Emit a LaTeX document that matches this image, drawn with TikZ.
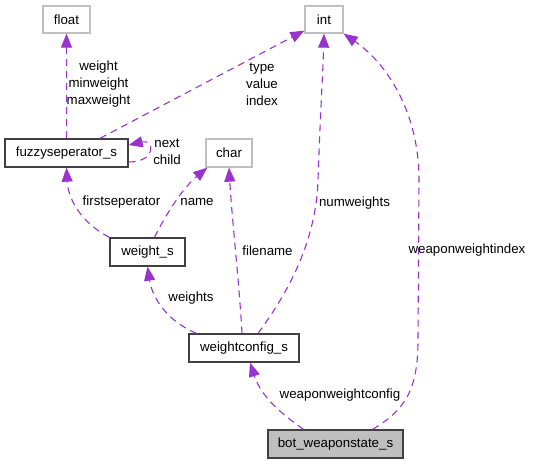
\documentclass[tikz,border=0pt]{standalone}
\usepackage{fontspec}
\setmainfont{Liberation Sans}
\usetikzlibrary{arrows.meta}
\definecolor{edgec}{HTML}{9A32CD}
\definecolor{grayb}{HTML}{BFBFBF}
\definecolor{darkb}{HTML}{404040}
\tikzset{
  base/.style={font=\fontsize{13.3}{17}\selectfont, inner sep=0pt, minimum height=28pt, anchor=center},
  cls/.style={base, draw=darkb, line width=1.3pt, fill=white},
  ext/.style={base, draw=grayb, line width=1.3pt, fill=white},
  cur/.style={base, draw=darkb, line width=1.3pt, fill=grayb},
  rel/.style={draw=edgec, line width=1.1pt, dash pattern=on 7pt off 5pt, -{Triangle[length=14pt,width=11pt]}, fill=none},
  lbl/.style={font=\fontsize{13.3}{17}\selectfont, inner sep=0pt, align=center, text=black},
}
\begin{document}
\begin{tikzpicture}[x=1pt,y=-1pt]
\useasboundingbox[fill=white] (0,0) rectangle (543,464);
\node[ext, minimum width=47pt, minimum height=27pt] (float) at (66.5,19.5) {float};
\node[ext, minimum width=38pt, minimum height=27pt] (int) at (324,19.5) {int};
\node[cls, minimum width=123pt] (fz) at (66.5,153) {fuzzyseperator\_s};
\node[ext, minimum width=46pt] (ch) at (229,153) {char};
\node[cls, minimum width=75pt] (ws) at (147.5,252) {weight\_s};
\node[cls, minimum width=110pt] (wc) at (244,348) {weightconfig\_s};
\node[cur, minimum width=135pt] (bot) at (335.5,444) {bot\_weaponstate\_s};

% fuzzyseperator_s -> float
\draw[rel] (fz.north) -- (float.south);
\node[lbl] (l1) at (98.5,84) {weight\\minweight\\maxweight};
% fuzzyseperator_s -> int
\draw[rel] ([xshift=33.5pt]fz.north) -- ([yshift=3pt]int.south west);
\node[lbl] (l2) at (262,84) {type\\value\\index};
% self loop
\draw[rel] ([yshift=-9pt]fz.east) .. controls +(28,0) and +(26,-6) .. ([yshift=8pt]fz.east);
\node[lbl] (l3) at (167,152) {next\\child};
% weight_s -> fuzzyseperator_s
\draw[rel] (ws.north west) .. controls (80,222) and (68,198) .. (fz.south);
\node[lbl] (l4) at (121.5,202) {firstseperator};
% weight_s -> char
\draw[rel] ([xshift=7pt]ws.north) .. controls (168,210) and (185,186) .. ([xshift=2pt]ch.south west);
\node[lbl] (l5) at (197,202) {name};
% weightconfig_s -> weight_s
\draw[rel] ([xshift=8pt]wc.north west) .. controls (165,320) and (152,296) .. (ws.south);
\node[lbl] (l6) at (191,298) {weights};
% weightconfig_s -> char
\draw[rel] ([xshift=-2pt]wc.north) .. controls (239,280) and (232,220) .. (ch.south);
\node[lbl] (l7) at (267.5,251) {filename};
% weightconfig_s -> int
\draw[rel] ([xshift=14pt]wc.north) .. controls (290,290) and (316,240) .. (318,180) .. controls (320,120) and (323,70) .. (int.south);
\node[lbl] (l8) at (354.5,203) {numweights};
% bot -> weightconfig_s
\draw[rel] ([xshift=-32pt]bot.north) .. controls (280,413) and (261,396) .. ([xshift=6pt]wc.south);
\node[lbl] (l9) at (340,395) {weaponweightconfig};
% bot -> int
\draw[rel] ([xshift=37pt]bot.north) .. controls (405,410) and (418,390) .. (418,340) -- (419,180) .. controls (419,110) and (385,62) .. (int.south east);
\node[lbl] (l10) at (467,250) {weaponweightindex};
\end{tikzpicture}
\end{document}
